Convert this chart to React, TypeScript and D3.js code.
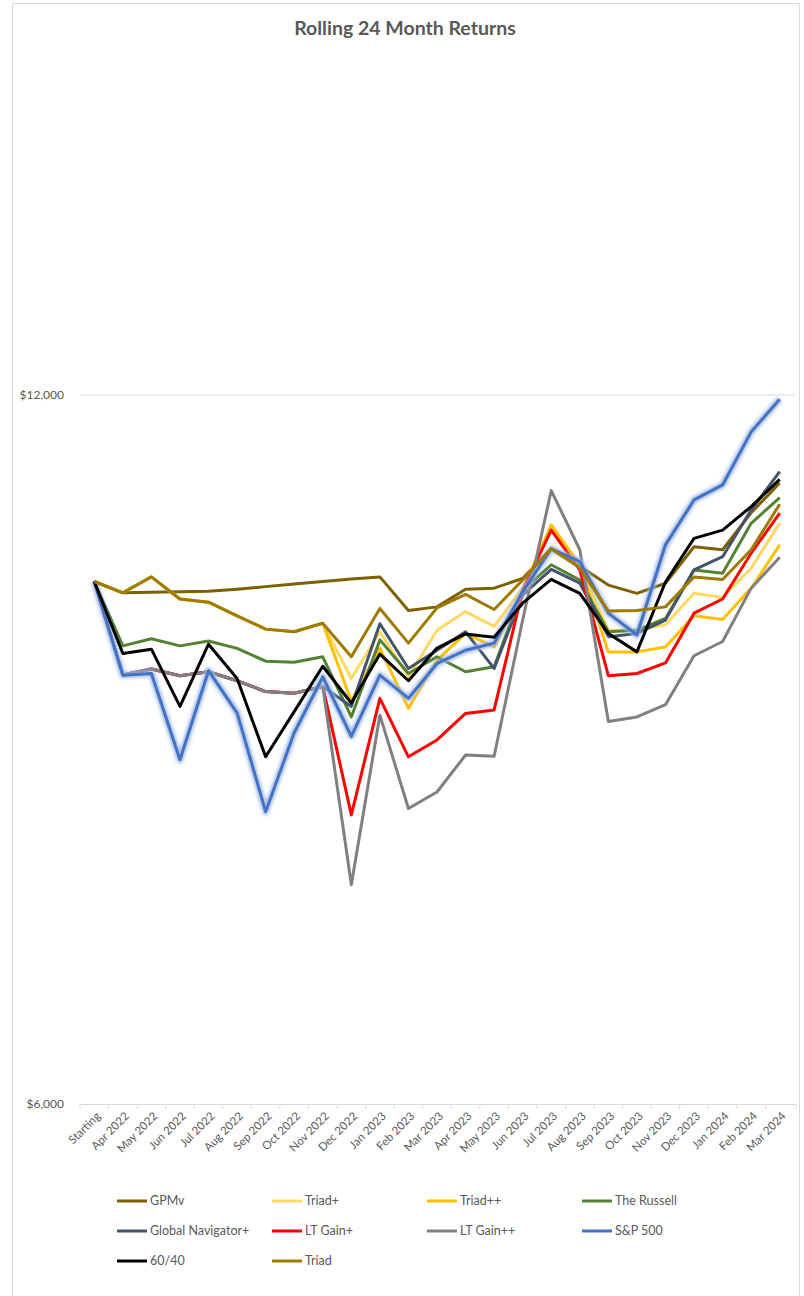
import React from "react";
import * as d3 from "d3";

// Month labels along the x axis
const categories = [
  "Starting", "Apr 2022", "May 2022", "Jun 2022", "Jul 2022", "Aug 2022", "Sep 2022",
  "Oct 2022", "Nov 2022", "Dec 2022", "Jan 2023", "Feb 2023", "Mar 2023", "Apr 2023",
  "May 2023", "Jun 2023", "Jul 2023", "Aug 2023", "Sep 2023", "Oct 2023", "Nov 2023",
  "Dec 2023", "Jan 2024", "Feb 2024", "Mar 2024",
];

// Growth of $10,000 for each strategy
const gpmv = [10000, 9890, 9895, 9900, 9905, 9925, 9950, 9975, 10000, 10025, 10045, 9720, 9755, 9925, 9935, 10030, 10330, 10150, 9965, 9885, 9983, 10345, 10315, 10695, 11010];
const triadPlus = [10000, 9890, 10045, 9830, 9800, 9670, 9545, 9520, 9600, 9095, 9520, 9110, 9535, 9710, 9570, 9935, 10545, 10150, 9535, 9535, 9585, 9885, 9845, 10130, 10590];
const triadPlusPlus = [10000, 9890, 10045, 9830, 9800, 9670, 9545, 9520, 9600, 8895, 9370, 8835, 9260, 9505, 9380, 9915, 10570, 10165, 9335, 9335, 9380, 9670, 9635, 9934, 10365];
const russell = [10000, 9390, 9455, 9390, 9435, 9367, 9250, 9240, 9290, 8760, 9445, 9140, 9290, 9155, 9200, 9915, 10165, 10015, 9520, 9535, 9645, 10113, 10080, 10585, 10855];
const globalNavigator = [10000, 9127, 9180, 9120, 9155, 9075, 8980, 8965, 9025, 8850, 9595, 9185, 9350, 9520, 9185, 9870, 10120, 9985, 9475, 9505, 9630, 10115, 10245, 10725, 11135];
const ltGainPlus = [10000, 9127, 9180, 9120, 9155, 9075, 8980, 8965, 9025, 7960, 8920, 8425, 8565, 8790, 8820, 9915, 10515, 10113, 9120, 9140, 9235, 9695, 9830, 10280, 10690];
const ltGainPlusPlus = [10000, 9127, 9180, 9120, 9155, 9075, 8980, 8965, 9025, 7435, 8775, 8010, 8140, 8440, 8430, 9630, 10930, 10315, 8720, 8760, 8865, 9300, 9430, 9935, 10240];
const sp500 = [10000, 9125, 9140, 8400, 9165, 8795, 7985, 8625, 9110, 8595, 9125, 8920, 9230, 9350, 9415, 9900, 10325, 10195, 9695, 9490, 10365, 10830, 10990, 11575, 11950];
const sixtyForty = [10000, 9320, 9360, 8850, 9405, 9095, 8425, 8805, 9205, 8880, 9315, 9075, 9370, 9500, 9470, 9790, 10020, 9885, 9505, 9335, 9995, 10430, 10515, 10760, 11050];
const triad = [10000, 9890, 10045, 9830, 9800, 9670, 9545, 9520, 9600, 9290, 9740, 9415, 9745, 9875, 9730, 10015, 10325, 10135, 9715, 9720, 9755, 10045, 10020, 10315, 10785];

// Value-axis tick labels
const yTicks = [6000, 12000];

type Series = { name: string; color: string; values: number[]; glow?: boolean };

// Listed in legend order; also the drawing order (later series sit on top)
const series: Series[] = [
  { name: "GPMv", color: "#7F6000", values: gpmv },
  { name: "Triad+", color: "#FFD966", values: triadPlus },
  { name: "Triad++", color: "#FFC000", values: triadPlusPlus },
  { name: "The Russell", color: "#548235", values: russell },
  { name: "Global Navigator+", color: "#44546A", values: globalNavigator },
  { name: "LT Gain+", color: "#FF0000", values: ltGainPlus },
  { name: "LT Gain++", color: "#808080", values: ltGainPlusPlus },
  { name: "S&P 500", color: "#4472C4", values: sp500, glow: true },
  { name: "60/40", color: "#000000", values: sixtyForty },
  { name: "Triad", color: "#9E7A00", values: triad },
];

const W = 804;
const H = 1296;
const plotLeft = 80;
const plotRight = 796;
const plotTop = 395;
const plotBottom = 1104;
const font = "Lato, 'Liberation Sans', sans-serif";
const textColor = "#595959";

export default function App() {
  const x = d3.scaleBand<string>().domain(categories).range([plotLeft, 794]);
  const cx = (i: number) => (x(categories[i]) as number) + x.bandwidth() / 2;
  const y = d3.scaleLog().base(2).domain([6000, 12000]).range([plotBottom, plotTop]);
  const line = d3
    .line<number>()
    .x((_, i) => cx(i))
    .y((d) => y(d));

  const tickEdges = categories.map((c) => x(c) as number).concat([plotRight]);

  return (
    <svg
      width={W}
      height={H}
      style={{ position: "absolute", left: 0, top: 0, background: "#fff" }}
      fontFamily={font}
    >
      <defs>
        <filter id="glow" x="-10%" y="-10%" width="120%" height="120%">
          <feGaussianBlur stdDeviation="1.6" />
        </filter>
      </defs>

      {/* chart frame */}
      <rect x={12.5} y={3.5} width={787} height={1300} fill="#fff" stroke="#D9D9D9" strokeWidth={1} />

      <text x={405} y={35} textAnchor="middle" fontSize={19.5} fontWeight={700} fill={textColor}>
        Rolling 24 Month Returns
      </text>

      {/* gridline at the top value tick */}
      <line x1={plotLeft} x2={plotRight} y1={y(12000)} y2={y(12000)} stroke="#D9D9D9" strokeWidth={1} />

      {/* category axis */}
      <line x1={plotLeft} x2={plotRight} y1={plotBottom + 0.5} y2={plotBottom + 0.5} stroke="#D9D9D9" strokeWidth={1} />
      {tickEdges.map((tx, i) => (
        <line key={i} x1={tx} x2={tx} y1={plotBottom} y2={plotBottom + 5} stroke="#D9D9D9" strokeWidth={1} />
      ))}
      {categories.map((c, i) => (
        <text
          key={c}
          transform={`translate(${cx(i) + 4},${plotBottom + 10}) rotate(-45)`}
          textAnchor="end"
          dy="0.35em"
          fontSize={11.5}
          fill={textColor}
        >
          {c}
        </text>
      ))}

      {/* value axis labels */}
      {yTicks.map((t) => (
        <text key={t} x={64} y={y(t)} dy="0.35em" textAnchor="end" fontSize={12} fill={textColor}>
          {d3.format("$,")(t)}
        </text>
      ))}

      {/* series */}
      {series.map((s) => (
        <g key={s.name}>
          {s.glow && (
            <path
              d={line(s.values) || ""}
              fill="none"
              stroke="#9DB6E4"
              strokeWidth={7}
              strokeOpacity={0.8}
              strokeLinejoin="round"
              filter="url(#glow)"
            />
          )}
          <path d={line(s.values) || ""} fill="none" stroke={s.color} strokeWidth={3} strokeLinejoin="round" />
        </g>
      ))}

      {/* legend */}
      {series.map((s, i) => {
        const col = i % 4;
        const row = Math.floor(i / 4);
        const lx = 117 + col * 155;
        const ly = 1201 + row * 30;
        return (
          <g key={s.name} transform={`translate(${lx},${ly})`}>
            <line x1={0} x2={30} y1={0} y2={0} stroke={s.color} strokeWidth={3} />
            <text x={33} y={0} dy="0.35em" fontSize={12.5} fill={textColor}>
              {s.name}
            </text>
          </g>
        );
      })}
    </svg>
  );
}
